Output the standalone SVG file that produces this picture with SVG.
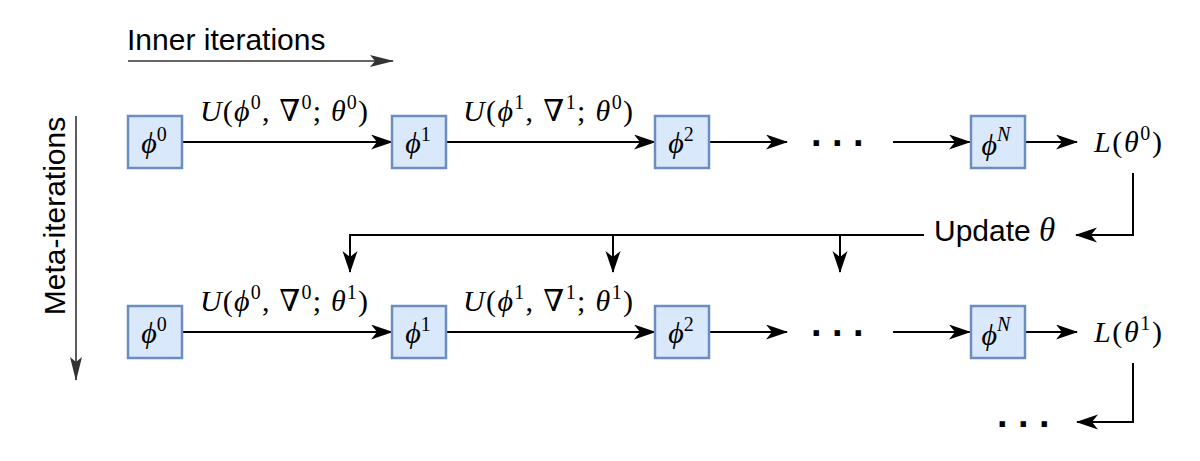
<svg xmlns="http://www.w3.org/2000/svg" width="1200" height="461" viewBox="0 0 1200 461">
<style>
.box{fill:#dae8fc;stroke:#6c8ebf;stroke-width:2.5}
.c{fill:none;stroke:#000;stroke-width:2}
.g{fill:none;stroke:#333;stroke-width:1.6}
.m{font-family:"Liberation Serif","DejaVu Serif",serif;font-size:30px;fill:#000}
.i{font-style:italic}
.s{font-family:"Liberation Sans",Arial,sans-serif;font-size:30px;fill:#000}
.d{font-family:"Liberation Sans",Arial,sans-serif;font-weight:bold;font-size:38px;letter-spacing:10.5px;fill:#000}
</style>
<defs>
<marker id="a" markerUnits="userSpaceOnUse" markerWidth="22" markerHeight="16" refX="21" refY="7.5" orient="auto">
<path d="M0,0 L22,7.5 L0,15 L6,7.5 z" fill="#000"/>
</marker>
<marker id="ag" markerUnits="userSpaceOnUse" markerWidth="24" markerHeight="14" refX="23" refY="6" orient="auto">
<path d="M0,0 L24,6 L0,12 L5,6 z" fill="#333"/>
</marker>
</defs>

<g id="inner-iterations">
<text class="s" x="127" y="50" font-size="29">Inner iterations</text>
<line class="g" x1="128" y1="61" x2="393" y2="61" marker-end="url(#ag)"/>
</g>
<g id="meta-iterations">
<text class="s" transform="translate(65,216) rotate(-90)" text-anchor="middle" font-size="31">Meta-iterations</text>
<line class="g" x1="76" y1="116" x2="76" y2="380" marker-end="url(#ag)"/>
</g>

<g id="connectors">
<line class="c" x1="182" y1="142" x2="392" y2="142" marker-end="url(#a)"/>
<line class="c" x1="446" y1="142" x2="655" y2="142" marker-end="url(#a)"/>
<line class="c" x1="709" y1="142" x2="787" y2="142" marker-end="url(#a)"/>
<line class="c" x1="893" y1="142" x2="970" y2="142" marker-end="url(#a)"/>
<line class="c" x1="1025" y1="142" x2="1077" y2="142" marker-end="url(#a)"/>
<line class="c" x1="182" y1="332" x2="392" y2="332" marker-end="url(#a)"/>
<line class="c" x1="446" y1="332" x2="655" y2="332" marker-end="url(#a)"/>
<line class="c" x1="709" y1="332" x2="787" y2="332" marker-end="url(#a)"/>
<line class="c" x1="893" y1="332" x2="970" y2="332" marker-end="url(#a)"/>
<line class="c" x1="1025" y1="332" x2="1077" y2="332" marker-end="url(#a)"/>
<path class="c" d="M1133,173 V235 H1076" marker-end="url(#a)"/>
<path class="c" d="M924,235 H350 V272" marker-end="url(#a)"/>
<path class="c" d="M613,235 V272" marker-end="url(#a)"/>
<path class="c" d="M840,235 V272" marker-end="url(#a)"/>
<path class="c" d="M1133,363 V422 H1077" marker-end="url(#a)"/>
</g>

<g id="label-u00">
<text class="m" x="284" y="121" text-anchor="middle" textLength="168"><tspan class="i">U</tspan>(<tspan class="i">ϕ</tspan><tspan font-size="20" dy="-12">0</tspan><tspan dy="12">, ∇</tspan><tspan font-size="20" dy="-12">0</tspan><tspan dy="12">; </tspan><tspan class="i">θ</tspan><tspan font-size="20" dy="-12">0</tspan><tspan dy="12">)</tspan></text>
</g>
<g id="label-u10">
<text class="m" x="548" y="121" text-anchor="middle" textLength="170"><tspan class="i">U</tspan>(<tspan class="i">ϕ</tspan><tspan font-size="20" dy="-12">1</tspan><tspan dy="12">, ∇</tspan><tspan font-size="20" dy="-12">1</tspan><tspan dy="12">; </tspan><tspan class="i">θ</tspan><tspan font-size="20" dy="-12">0</tspan><tspan dy="12">)</tspan></text>
</g>
<g id="label-u01">
<text class="m" x="284" y="311" text-anchor="middle" textLength="168"><tspan class="i">U</tspan>(<tspan class="i">ϕ</tspan><tspan font-size="20" dy="-12">0</tspan><tspan dy="12">, ∇</tspan><tspan font-size="20" dy="-12">0</tspan><tspan dy="12">; </tspan><tspan class="i">θ</tspan><tspan font-size="20" dy="-12">1</tspan><tspan dy="12">)</tspan></text>
</g>
<g id="label-u11">
<text class="m" x="548" y="311" text-anchor="middle" textLength="170"><tspan class="i">U</tspan>(<tspan class="i">ϕ</tspan><tspan font-size="20" dy="-12">1</tspan><tspan dy="12">, ∇</tspan><tspan font-size="20" dy="-12">1</tspan><tspan dy="12">; </tspan><tspan class="i">θ</tspan><tspan font-size="20" dy="-12">1</tspan><tspan dy="12">)</tspan></text>
</g>

<g id="phi0-a"><rect class="box" x="128" y="116" width="54" height="52"/>
<text class="m" x="154" y="153" text-anchor="middle"><tspan class="i">ϕ</tspan><tspan font-size="20" dy="-12">0</tspan></text></g>
<g id="phi1-a"><rect class="box" x="392" y="116" width="54" height="52"/>
<text class="m" x="418" y="153" text-anchor="middle"><tspan class="i">ϕ</tspan><tspan font-size="20" dy="-12">1</tspan></text></g>
<g id="phi2-a"><rect class="box" x="655" y="116" width="54" height="52"/>
<text class="m" x="681" y="153" text-anchor="middle"><tspan class="i">ϕ</tspan><tspan font-size="20" dy="-12">2</tspan></text></g>
<g id="dots-a"><text class="d" x="811" y="146">...</text></g>
<g id="phiN-a"><rect class="box" x="971" y="116" width="54" height="52"/>
<text class="m" x="996" y="155" text-anchor="middle"><tspan class="i">ϕ</tspan><tspan class="i" font-size="20" dy="-14">N</tspan></text></g>
<g id="loss-0"><text class="m" x="1094" y="152" textLength="68"><tspan class="i">L</tspan>(<tspan class="i">θ</tspan><tspan font-size="20" dy="-12">0</tspan><tspan dy="12">)</tspan></text></g>

<g id="update-theta"><text class="s" x="934" y="241" font-size="31">Update <tspan class="i" font-family="Liberation Serif, serif" font-size="33">θ</tspan></text></g>

<g id="phi0-b"><rect class="box" x="128" y="306" width="54" height="52"/>
<text class="m" x="154" y="343" text-anchor="middle"><tspan class="i">ϕ</tspan><tspan font-size="20" dy="-12">0</tspan></text></g>
<g id="phi1-b"><rect class="box" x="392" y="306" width="54" height="52"/>
<text class="m" x="418" y="343" text-anchor="middle"><tspan class="i">ϕ</tspan><tspan font-size="20" dy="-12">1</tspan></text></g>
<g id="phi2-b"><rect class="box" x="655" y="306" width="54" height="52"/>
<text class="m" x="681" y="343" text-anchor="middle"><tspan class="i">ϕ</tspan><tspan font-size="20" dy="-12">2</tspan></text></g>
<g id="dots-b"><text class="d" x="811" y="336">...</text></g>
<g id="phiN-b"><rect class="box" x="971" y="306" width="54" height="52"/>
<text class="m" x="996" y="345" text-anchor="middle"><tspan class="i">ϕ</tspan><tspan class="i" font-size="20" dy="-14">N</tspan></text></g>
<g id="loss-1"><text class="m" x="1094" y="342" textLength="68"><tspan class="i">L</tspan>(<tspan class="i">θ</tspan><tspan font-size="20" dy="-12">1</tspan><tspan dy="12">)</tspan></text></g>

<g id="dots-c"><text class="d" x="997" y="427">...</text></g>
</svg>
